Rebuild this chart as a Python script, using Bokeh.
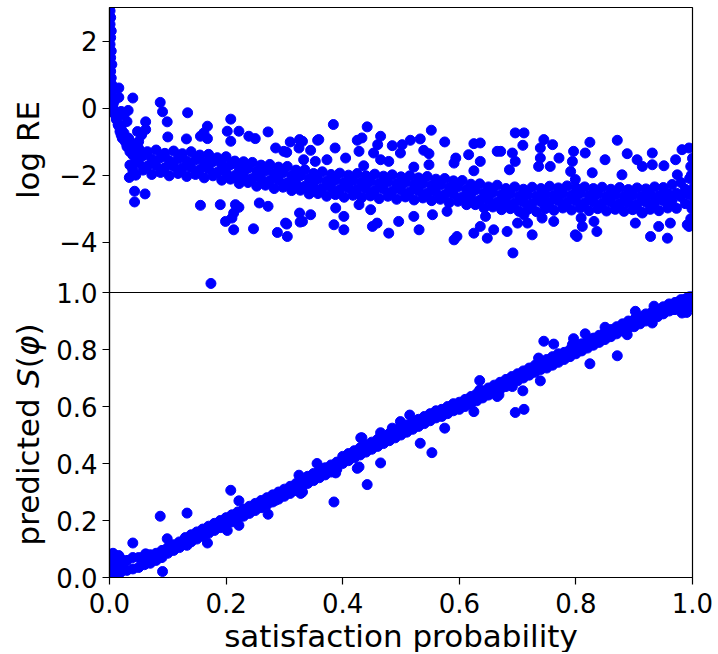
from math import pi
from bokeh.plotting import figure
from bokeh.models import Range1d, FixedTicker, Label, LinearAxis, BoxAnnotation
from bokeh.embed import file_html
from bokeh.resources import INLINE

# ---------------- data ----------------
TOP_LO, TOP_HI = -5.5, 3.0          # log RE axis range
x_ticks = [0.0, 0.2, 0.4, 0.6, 0.8, 1.0]
x_tick_labels = ["0.0", "0.2", "0.4", "0.6", "0.8", "1.0"]
bot_ticks = [0.0, 0.2, 0.4, 0.6, 0.8, 1.0]
bot_tick_labels = ["0.0", "0.2", "0.4", "0.6", "0.8", "1.0"]
top_ticks = [-4, -2, 0, 2]
top_tick_labels = ["\u22124", "\u22122", "0", "2"]

# --- top panel: log RE ---
streak_x = [0.001, 0.002, 0.001, 0.003, 0.002, 0.001, 0.003, 0.002, 0.004, 0.002, 0.003,
            0.004, 0.005, 0.003, 0.006, 0.005, 0.008, 0.010, 0.012, 0.015, 0.018, 0.020,
            0.022, 0.025, 0.028, 0.030, 0.032, 0.035, 0.038, 0.040, 0.042, 0.045]
streak_y = [2.9, 2.7, 2.5, 2.3, 2.1, 1.9, 1.7, 1.5, 1.3, 1.1, 0.9,
            0.7, 0.55, 0.3, 0.1, -0.05, -0.15, -0.2, -0.35, -0.5, -0.6, -0.8,
            -0.7, -0.9, -1.0, -1.1, -1.05, -1.2, -1.3, -1.35, -1.4, -1.45]
early_x = [0.012, 0.015, 0.018, 0.020, 0.022, 0.025, 0.027, 0.030, 0.033, 0.035, 0.038,
           0.040, 0.042, 0.045, 0.047, 0.035, 0.040, 0.045, 0.050, 0.055, 0.048, 0.030,
           0.025, 0.020, 0.008, 0.005]
early_y = [-0.3, -0.5, -0.7, -0.55, -0.9, -0.75, -1.0, -1.15, -0.9, -1.3, -1.05,
           -1.4, -1.2, -1.6, -1.35, -1.7, -1.85, -2.0, -1.0, -0.8, -0.7, -0.4,
           -0.2, -0.1, 0.2, 0.05]

# dense band, four rows sampled every 0.015 from 0.05
top_band_x = [round(0.05 + 0.015 * i, 4) for i in range(64)]
top_band_x2 = [round(0.0575 + 0.015 * i, 4) for i in range(64)]
top_band_hi = [-1.20, -1.30, -1.25, -1.35, -1.28, -1.36, -1.30, -1.40, -1.38, -1.48,
               -1.45, -1.58, -1.60, -1.62, -1.70, -1.68, -1.76, -1.74, -1.85, -1.84,
               -1.95, -1.90, -1.98, -1.94, -2.00, -1.95, -2.02, -1.97, -2.03, -1.99,
               -2.05, -2.02, -2.08, -2.04, -2.12, -2.10, -2.17, -2.16, -2.27, -2.26,
               -2.35, -2.30, -2.40, -2.35, -2.42, -2.36, -2.40, -2.33, -2.38, -2.32,
               -2.37, -2.35, -2.40, -2.36, -2.42, -2.37, -2.43, -2.38, -2.41, -2.35,
               -2.37, -2.28, -2.22, -2.10]
top_band_mh = [-1.42, -1.52, -1.48, -1.57, -1.52, -1.58, -1.54, -1.62, -1.60, -1.69,
               -1.69, -1.79, -1.80, -1.88, -1.87, -1.94, -1.93, -2.01, -2.02, -2.11,
               -2.12, -2.18, -2.15, -2.21, -2.17, -2.21, -2.19, -2.24, -2.20, -2.26,
               -2.22, -2.28, -2.25, -2.31, -2.29, -2.36, -2.35, -2.43, -2.45, -2.53,
               -2.52, -2.58, -2.57, -2.62, -2.59, -2.63, -2.57, -2.59, -2.55, -2.59,
               -2.55, -2.61, -2.57, -2.62, -2.59, -2.63, -2.60, -2.64, -2.59, -2.61,
               -2.55, -2.54, -2.42, -2.36]
top_band_ml = [-1.64, -1.73, -1.71, -1.78, -1.74, -1.79, -1.77, -1.83, -1.82, -1.91,
               -1.91, -2.01, -2.02, -2.10, -2.09, -2.16, -2.15, -2.23, -2.24, -2.33,
               -2.34, -2.40, -2.37, -2.43, -2.39, -2.43, -2.41, -2.46, -2.42, -2.48,
               -2.44, -2.50, -2.47, -2.53, -2.51, -2.58, -2.57, -2.65, -2.67, -2.75,
               -2.74, -2.80, -2.79, -2.84, -2.81, -2.85, -2.79, -2.81, -2.77, -2.81,
               -2.77, -2.83, -2.79, -2.84, -2.81, -2.85, -2.82, -2.86, -2.81, -2.83,
               -2.77, -2.76, -2.64, -2.58]
top_band_lo = [-1.85, -1.98, -1.92, -2.02, -1.95, -2.04, -1.98, -2.08, -2.02, -2.15,
               -2.12, -2.25, -2.22, -2.33, -2.30, -2.40, -2.36, -2.46, -2.45, -2.56,
               -2.55, -2.63, -2.58, -2.66, -2.60, -2.67, -2.62, -2.70, -2.63, -2.72,
               -2.65, -2.74, -2.68, -2.76, -2.72, -2.82, -2.78, -2.88, -2.88, -2.98,
               -2.95, -3.03, -3.00, -3.08, -3.02, -3.09, -3.00, -3.05, -2.98, -3.04,
               -2.98, -3.06, -3.00, -3.07, -3.02, -3.08, -3.03, -3.10, -3.02, -3.06,
               -2.98, -2.99, -2.85, -2.82]

top_out_x = [0.016, 0.016, 0.040, 0.087, 0.091, 0.134, 0.099, 0.062, 0.062, 0.032, 0.010, 0.003,
             0.208, 0.168, 0.162, 0.156, 0.168, 0.100, 0.132, 0.202, 0.208, 0.222, 0.239, 0.250,
             0.272, 0.310, 0.326, 0.325, 0.304, 0.285, 0.299, 0.359,
             0.043, 0.043, 0.061, 0.034, 0.156, 0.190, 0.216, 0.222, 0.213, 0.210, 0.199, 0.213,
             0.247, 0.257, 0.272, 0.288, 0.305, 0.304, 0.326, 0.327, 0.174, 0.302, 0.331, 0.385,
             0.402,
             0.384, 0.442, 0.357, 0.331, 0.345, 0.387, 0.425, 0.433, 0.465, 0.460, 0.428, 0.453,
             0.485, 0.502, 0.516, 0.533, 0.552, 0.575, 0.539, 0.548, 0.548, 0.499, 0.522, 0.405,
             0.436, 0.465, 0.479, 0.373, 0.353, 0.333, 0.625, 0.636, 0.616, 0.636, 0.665, 0.625,
             0.591, 0.594,
             0.345, 0.402, 0.388, 0.428, 0.448, 0.451, 0.459, 0.479, 0.496, 0.522, 0.531, 0.554,
             0.579, 0.591, 0.596, 0.625, 0.636, 0.648, 0.659, 0.645,
             0.696, 0.711, 0.709, 0.671, 0.691, 0.696, 0.686, 0.745, 0.760, 0.739, 0.771, 0.739,
             0.736, 0.756, 0.796, 0.794, 0.791, 0.799, 0.824, 0.816, 0.828, 0.850, 0.871, 0.888,
             0.905, 0.914, 0.931, 0.951, 0.931, 0.971, 0.982, 0.994, 0.997, 0.879, 0.974,
             0.692, 0.725, 0.682, 0.700, 0.717, 0.742, 0.762, 0.799, 0.811, 0.836, 0.831, 0.809,
             0.902, 0.928, 0.942, 0.957, 0.962, 0.991, 0.914, 0.711, 0.802, 0.994,
             1.000, 0.998, 1.000, 0.999, 0.997]
top_out_y = [0.60, 0.32, 0.30, 0.17, -0.11, -0.14, -0.41, -0.41, -0.64, -0.07, -0.10, 0.00,
             -0.33, -0.54, -0.74, -0.84, -0.91, -0.86, -0.92, -0.69, -0.99, -0.69, -0.84, -0.91,
             -0.71, -1.01, -0.94, -1.19, -1.32, -1.19, -1.29, -0.94,
             -2.80, -2.48, -2.56, -2.07, -2.90, -2.88, -2.88, -2.96, -3.13, -3.28, -3.38, -3.63,
             -3.60, -2.83, -2.93, -3.71, -3.83, -3.46, -3.13, -3.40, -5.23, -3.43, -3.38, -3.48,
             -3.63,
             -0.49, -0.56, -0.96, -0.99, -1.26, -1.19, -0.96, -0.89, -0.84, -1.09, -1.29, -1.34,
             -1.12, -1.09, -0.96, -0.92, -0.66, -1.01, -1.26, -1.36, -1.69, -1.34, -1.76, -1.49,
             -1.72, -1.54, -1.59, -1.54, -1.59, -1.54, -1.06, -1.04, -1.39, -1.59, -1.29, -1.87,
             -1.64, -1.49,
             -3.18, -3.23, -2.98, -2.88, -3.03, -3.53, -3.43, -3.73, -3.38, -3.23, -3.63, -3.18,
             -3.08, -3.93, -3.83, -3.73, -3.53, -3.88, -3.63, -3.23,
             -0.74, -0.74, -1.11, -1.29, -1.34, -1.59, -1.84, -0.94, -1.09, -1.19, -1.49, -1.49,
             -1.74, -1.74, -1.29, -1.59, -1.89, -2.13, -1.02, -1.34, -1.93, -1.54, -0.96, -1.36,
             -1.54, -1.74, -1.34, -1.72, -1.69, -1.54, -1.24, -1.19, -1.74, -1.99, -1.99,
             -4.32, -3.78, -3.68, -3.43, -3.43, -3.28, -3.38, -3.78, -3.53, -3.68, -3.38, -3.28,
             -3.43, -3.83, -3.53, -3.88, -3.43, -3.48, -3.13, -3.18, -3.83, -3.53,
             -1.50, -2.00, -2.60, -3.00, -3.30]

# --- bottom panel: predicted S(phi) ---
bot_band_x = [round(0.01 * i, 3) for i in range(101)]
bot_band_lo = [0.01, 0.015, 0.02, 0.025, 0.03, 0.035, 0.045, 0.05, 0.06, 0.07,
               0.085, 0.095, 0.105, 0.115, 0.125, 0.135, 0.145, 0.155, 0.165, 0.175,
               0.185, 0.195, 0.205, 0.215, 0.225, 0.235, 0.245, 0.255, 0.265, 0.275,
               0.285, 0.295, 0.305, 0.315, 0.33, 0.34, 0.35, 0.36, 0.37, 0.38,
               0.40, 0.41, 0.42, 0.43, 0.44, 0.45, 0.46, 0.47, 0.48, 0.49,
               0.50, 0.51, 0.52, 0.53, 0.54, 0.55, 0.56, 0.565, 0.575, 0.585,
               0.59, 0.60, 0.61, 0.62, 0.63, 0.64, 0.65, 0.66, 0.67, 0.68,
               0.69, 0.70, 0.71, 0.72, 0.73, 0.735, 0.745, 0.755, 0.765, 0.775,
               0.785, 0.795, 0.805, 0.815, 0.825, 0.835, 0.845, 0.855, 0.865, 0.875,
               0.88, 0.89, 0.90, 0.905, 0.915, 0.925, 0.935, 0.94, 0.95, 0.955,
               0.96]
bot_band_hi = [0.05, 0.06, 0.065, 0.06, 0.07, 0.07, 0.075, 0.08, 0.085, 0.095,
               0.105, 0.115, 0.125, 0.14, 0.15, 0.16, 0.17, 0.18, 0.19, 0.20,
               0.21, 0.22, 0.23, 0.24, 0.25, 0.26, 0.27, 0.28, 0.29, 0.30,
               0.31, 0.32, 0.33, 0.345, 0.355, 0.365, 0.375, 0.385, 0.395, 0.405,
               0.425, 0.435, 0.445, 0.455, 0.465, 0.475, 0.485, 0.495, 0.505, 0.515,
               0.525, 0.535, 0.545, 0.555, 0.565, 0.575, 0.585, 0.59, 0.60, 0.61,
               0.615, 0.625, 0.635, 0.645, 0.655, 0.665, 0.675, 0.685, 0.695, 0.705,
               0.715, 0.725, 0.735, 0.745, 0.755, 0.765, 0.775, 0.785, 0.79, 0.80,
               0.81, 0.82, 0.83, 0.84, 0.85, 0.86, 0.87, 0.88, 0.89, 0.90,
               0.905, 0.915, 0.925, 0.93, 0.94, 0.95, 0.96, 0.965, 0.975, 0.98,
               0.985]
bot_extra_x = [0.000, 0.005, 0.003, 0.008, 0.012, 0.002, 0.015, 0.020, 0.006,
               0.990, 1.000, 0.995, 0.985, 0.975, 0.970, 1.000, 0.992]
bot_extra_y = [0.000, 0.020, 0.060, 0.080, 0.050, 0.035, 0.000, 0.040, 0.085,
               0.930, 0.950, 0.985, 0.975, 0.965, 0.945, 0.970, 0.960]
bot_out_x = [0.208, 0.222, 0.087, 0.133, 0.040, 0.099, 0.091, 0.272, 0.202, 0.168,
             0.325, 0.328, 0.285, 0.016, 0.062, 0.133, 0.222, 0.385, 0.356, 0.331,
             0.428, 0.431, 0.635, 0.635, 0.665, 0.625, 0.575, 0.553, 0.533, 0.515,
             0.499, 0.485, 0.465, 0.433, 0.465, 0.442, 0.425, 0.388, 0.745, 0.762,
             0.796, 0.816, 0.850, 0.902, 0.934, 0.888, 0.931, 0.871, 0.824, 0.739,
             0.709, 0.711, 0.696, 0.668, 0.691, 0.982, 0.966, 0.736, 0.794]
bot_out_y = [0.306, 0.269, 0.215, 0.226, 0.121, 0.136, 0.021, 0.222, 0.165, 0.121,
             0.359, 0.295, 0.271, 0.077, 0.083, 0.113, 0.183, 0.265, 0.400, 0.300,
             0.388, 0.490, 0.691, 0.658, 0.635, 0.582, 0.524, 0.438, 0.471, 0.570,
             0.547, 0.524, 0.508, 0.490, 0.402, 0.326, 0.383, 0.367, 0.829, 0.819,
             0.838, 0.855, 0.878, 0.934, 0.952, 0.852, 0.893, 0.778, 0.750, 0.690,
             0.655, 0.590, 0.579, 0.641, 0.670, 0.928, 0.940, 0.770, 0.817]

# ---------------- layout ----------------
W, H = 716, 652
X0, X1 = 109.0, 692.0          # pixel columns of x = 0 and x = 1
YB, YT = 577.0, 7.0            # pixel rows of the lower panel bottom and upper panel top
SX = X1 - X0
SY = (YB - YT) / 2.0           # pixels per unit on the shared vertical scale (0..1 lower, 1..2 upper)
SPAN = TOP_HI - TOP_LO

xs0, xs1 = -X0 / SX, (W - X0) / SX
ps0, ps1 = -(H - YB) / SY, YB / SY
FONT = "DejaVu Sans"
BLUE = "#0000ff"

p = figure(width=W, height=H, x_range=Range1d(xs0, xs1), y_range=Range1d(ps0, ps1),
           output_backend="svg", toolbar_location=None, min_border=0)
p.extra_y_ranges = {"top": Range1d(TOP_LO + (ps0 - 1) * SPAN, TOP_LO + (ps1 - 1) * SPAN)}
p.title.visible = False
p.grid.visible = False
p.background_fill_color = "white"
p.border_fill_color = "white"
p.outline_line_color = None

# top panel points
kw_top = dict(size=10, fill_color=BLUE, line_color=BLUE, y_range_name="top", level="underlay")
p.scatter(streak_x, streak_y, **kw_top)
p.scatter(early_x, early_y, **kw_top)
p.scatter(top_band_x, top_band_hi, **kw_top)
p.scatter(top_band_x2, top_band_mh, **kw_top)
p.scatter(top_band_x, top_band_ml, **kw_top)
p.scatter(top_band_x2, top_band_lo, **kw_top)
p.scatter(top_out_x, top_out_y, **kw_top)

# bottom panel points
kw_bot = dict(size=10, fill_color=BLUE, line_color=BLUE, level="underlay")
p.scatter(bot_band_x, bot_band_lo, **kw_bot)
p.scatter(bot_band_x, bot_band_hi, **kw_bot)
p.scatter(bot_extra_x, bot_extra_y, **kw_bot)
p.scatter(bot_out_x, bot_out_y, **kw_bot)

# white masks outside the two axes boxes (clip the markers like the axes do)
p.quad(left=[xs0, 1, xs0, xs0], right=[0, xs1, xs1, xs1],
       bottom=[ps0, ps0, ps0, 2], top=[ps1, ps1, 0, ps1],
       fill_color="white", fill_alpha=1.0, line_color=None, level="glyph")

# axes boxes
box = dict(fill_alpha=0.0, line_color="black", line_alpha=1.0, line_width=1.2)
p.add_layout(BoxAnnotation(left=0, right=1, bottom=1, top=2, **box))
p.add_layout(BoxAnnotation(left=0, right=1, bottom=0, top=1, **box))

# axes
yax = p.yaxis[0]
yax.fixed_location = 0
yax.bounds = (0, 1)
yax.ticker = FixedTicker(ticks=bot_ticks)
yax.major_label_overrides = {t: s for t, s in zip(bot_ticks, bot_tick_labels)}
yax_top = LinearAxis(y_range_name="top", fixed_location=0, bounds=(TOP_LO, TOP_HI),
                     ticker=FixedTicker(ticks=top_ticks),
                     major_label_overrides={t: s for t, s in zip(top_ticks, top_tick_labels)})
p.add_layout(yax_top, "left")
xax = p.xaxis[0]
xax.fixed_location = 0
xax.bounds = (0, 1)
xax.ticker = FixedTicker(ticks=x_ticks)
xax.major_label_overrides = {t: s for t, s in zip(x_ticks, x_tick_labels)}
for ax in (xax, yax, yax_top):
    ax.major_tick_out = 7
    ax.major_tick_in = 0
    ax.minor_tick_line_color = None
    ax.axis_line_color = "black"
    ax.axis_line_width = 1.2
    ax.major_tick_line_color = "black"
    ax.major_tick_line_width = 1.2
    ax.major_label_text_font = FONT
    ax.major_label_text_font_size = "26px"
    ax.major_label_text_color = "black"
xax.major_label_standoff = 8
yax.major_label_standoff = 5
yax_top.major_label_standoff = 5

# axis titles
LBL = "31px"
ylab_x = (27 - X0) / SX        # column of the rotated titles
p.add_layout(Label(x=0.5, y=-(635 - YB) / SY, text="satisfaction probability", text_font=FONT,
                   text_font_size=LBL, text_align="center", text_baseline="alphabetic",
                   text_color="black"))
p.add_layout(Label(x=ylab_x, y=1.5, text="log RE", text_font=FONT, text_font_size=LBL,
                   text_align="center", text_baseline="alphabetic", angle=pi / 2,
                   text_color="black"))
pieces = [("predicted", "normal", 147.7 + 9.9), ("S", "italic", 19.7), ("(", "normal", 12.1),
          ("\u03c6", "italic", 20.6), (")", "normal", 12.1)]
ypos = (YB - 545) / SY
for txt, style, w in pieces:
    p.add_layout(Label(x=ylab_x, y=ypos, text=txt, text_font=FONT, text_font_size=LBL,
                       text_font_style=style, text_align="left", text_baseline="alphabetic",
                       angle=pi / 2, text_color="black"))
    ypos += w / SY

open("out.html", "w").write(file_html(p, INLINE))
